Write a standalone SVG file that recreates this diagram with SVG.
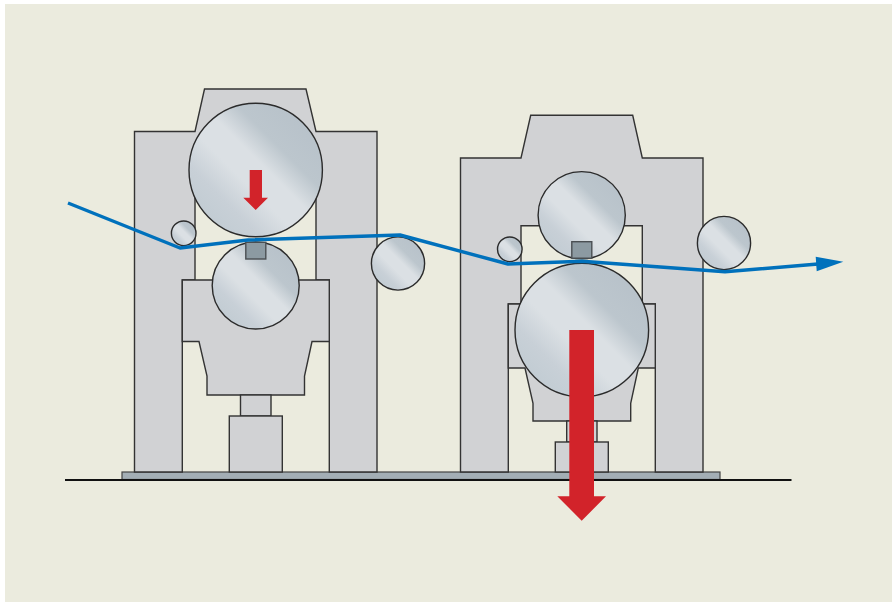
<svg xmlns="http://www.w3.org/2000/svg" width="892" height="602" viewBox="0 0 892 602">
<style>
.m{fill:#d1d2d4;stroke:#333;stroke-width:1.4;stroke-linejoin:miter}
.r{fill:url(#g);stroke:#2b2b2b;stroke-width:1.4}
.s{fill:#8c9aa2;stroke:#4a4f53;stroke-width:1.4}
.a{fill:#d2232a}
.w{fill:none;stroke:#0071bc;stroke-width:3.4;stroke-linejoin:round}
</style>
<defs>
<linearGradient id="g" x1="0.14" y1="0.86" x2="0.86" y2="0.14">
<stop offset="0" stop-color="#c2ccd3"/>
<stop offset="0.18" stop-color="#c8d0d7"/>
<stop offset="0.38" stop-color="#dbe0e4"/>
<stop offset="0.56" stop-color="#dbe0e4"/>
<stop offset="0.74" stop-color="#bcc6cd"/>
<stop offset="1" stop-color="#b8c2ca"/>
</linearGradient>
</defs>
<rect width="892" height="602" fill="#fff"/>
<rect x="5" y="4" width="887" height="598" fill="#ebebde"/>
<g id="base">
<rect x="122" y="472" width="598" height="7.5" fill="#a3aeb5" stroke="#444" stroke-width="1.2"/>
<line x1="65" y1="480" x2="791.5" y2="480" stroke="#111" stroke-width="2"/>
</g>
<g id="machine-left">
<path class="m" d="M134.5 472V131.5H195L204.5 89H306L316 131.5H377V472H329.3V280H316V170H195V280H182.3V472Z"/>
<path class="m" d="M182.3 280H329.3V341.5H312L304.5 376V395H207V376L199 341.5H182.3Z"/>
<rect class="m" x="240.5" y="395" width="30.5" height="21"/>
<rect class="m" x="229.3" y="416" width="53" height="56"/>
<circle class="r" cx="255.7" cy="170" r="66.7"/>
<circle class="r" cx="255.7" cy="285.5" r="43.5"/>
<rect class="s" x="245.8" y="242.3" width="20" height="16.7"/>
<circle class="r" cx="183.7" cy="233.3" r="12.3"/>
<circle class="r" cx="398" cy="263.5" r="26.6"/>
</g>
<g id="machine-right">
<path class="m" d="M460.5 472V158H521L530.7 115.3H632.7L642.3 158H703V472H655.3V304H642.3V225.7H521V304H508.3V472Z"/>
<path class="m" d="M508.3 304H655.3V368H638.3L630.7 403.3V421H533V403.3L525 368H508.3Z"/>
<rect class="m" x="566.7" y="421" width="30.3" height="21"/>
<rect class="m" x="555.3" y="442" width="53" height="30"/>
<circle class="r" cx="581.7" cy="215.2" r="43.6"/>
<circle class="r" cx="581.8" cy="330" r="66.8"/>
<rect class="s" x="571.8" y="241.7" width="20" height="16.5"/>
<circle class="r" cx="509.8" cy="249.3" r="12.3"/>
<circle class="r" cx="724" cy="243" r="26.6"/>
</g>
<g id="connectors">
<path class="w" d="M68 203L180 248L248 240L400 235L508 264L582 261.3L725 271.8L818 264"/>
<path d="M815.7 256.7L843.3 261.7L816.7 271.3Z" fill="#0071bc"/>
<path class="a" d="M249.7 170H262V197.7H268L255.7 210L243.3 197.7H249.7Z"/>
<path class="a" d="M569.3 330H594V496.3H606L581.7 520.7L557.3 496.3H569.3Z"/>
</g>
</svg>
